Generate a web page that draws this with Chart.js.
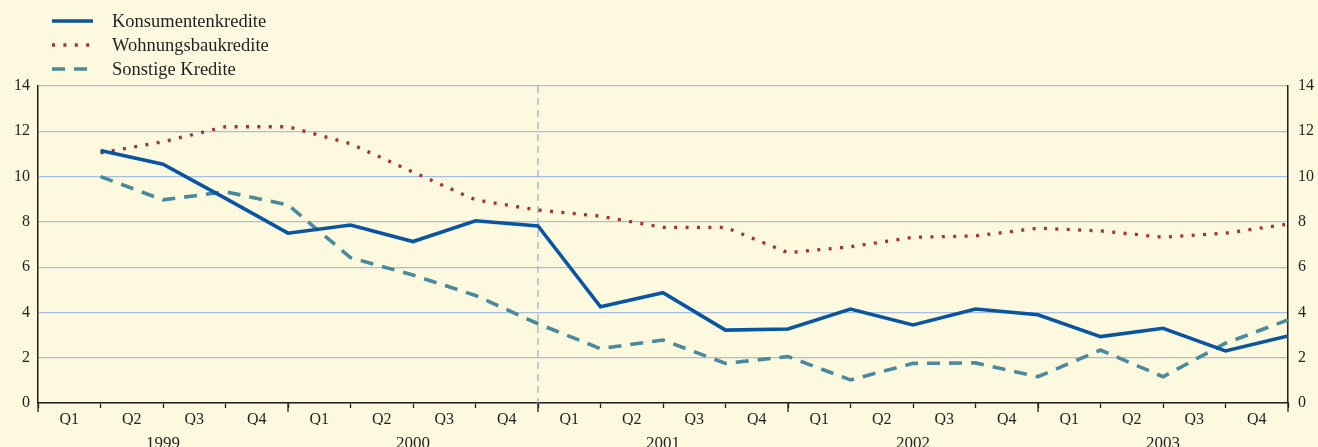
<!DOCTYPE html>
<html>
<head>
<meta charset="utf-8">
<script src="https://cdn.jsdelivr.net/npm/chart.js@4"></script>
<style>
  html, body { margin: 0; padding: 0; background: #fdf9df; }
  #wrap { position: relative; width: 1318px; height: 447px; }
  #legend { position: absolute; left: 52px; top: 9px; font-family: "Liberation Serif", "DejaVu Serif", serif; font-size: 18.5px; color: #231f20; }
  .row { height: 24px; display: flex; align-items: center; }
  .row svg { width: 60px; height: 10px; }
  canvas { position: absolute; left: 0; top: 0; }
</style>
</head>
<body>
<div id="wrap">
  <canvas id="chart" width="1318" height="447"></canvas>
  <div id="legend"></div>
</div>
<script>
// Quartale 1999 Q1 bis 2003 Q4, Werte jeweils am Quartalsende
const quartale = ["Q1","Q2","Q3","Q4","Q1","Q2","Q3","Q4","Q1","Q2","Q3","Q4","Q1","Q2","Q3","Q4","Q1","Q2","Q3","Q4"];
const jahre = ["1999","2000","2001","2002","2003"];
const yTicks = [0,2,4,6,8,10,12,14];

const konsumentenkredite = [11.15,10.55,9.04,7.5,7.86,7.13,8.05,7.82,4.25,4.87,3.22,3.27,4.15,3.45,4.15,3.9,2.93,3.3,2.3,2.96];
const wohnungsbaukredite = [11.05,11.54,12.2,12.2,11.45,10.2,8.97,8.52,8.25,7.76,7.76,6.64,6.9,7.32,7.38,7.72,7.6,7.32,7.5,7.9];
const sonstigeKredite = [10.0,8.97,9.33,8.75,6.42,5.65,4.75,3.5,2.4,2.78,1.75,2.05,1.02,1.75,1.77,1.16,2.34,1.16,2.64,3.67];

const farben = { konsum: "#0a55a3", wohnung: "#a83232", sonstige: "#4a8a9c" };

function punkte(arr) {
	return arr.map(function (v, i) { return { x: i + 1, y: v }; });
}

const serien = [
	{ label: "Konsumentenkredite", data: konsumentenkredite, color: farben.konsum, dash: [], width: 3.6 },
	{ label: "Wohnungsbaukredite", data: wohnungsbaukredite, color: farben.wohnung, dash: [3, 8.4], width: 3.3 },
	{ label: "Sonstige Kredite", data: sonstigeKredite, color: farben.sonstige, dash: [13, 9], width: 3.6 }
];

//legende als html
const legend = document.getElementById("legend");
serien.forEach(function (s) {
	const row = document.createElement("div");
	row.className = "row";
	row.innerHTML = "<svg viewBox='0 0 60 10'><line x1='0' y1='5' x2='41' y2='5' stroke='" + s.color + "' stroke-width='" + s.width + "' stroke-dasharray='" + (s.dash.length ? s.dash.join(",") : "none") + "'/></svg><span>" + s.label + "</span>";
	legend.appendChild(row);
});

const serif = "'Liberation Serif', 'DejaVu Serif', serif";

//gestrichelte linie 2000/2001 und laengere jahresticks
const extras = {
	id: "extras",
	beforeDatasetsDraw: function (chart) {
		const ctx = chart.ctx;
		const xs = chart.scales.x;
		const area = chart.chartArea;
		const px = xs.getPixelForValue(8);
		ctx.save();
		ctx.strokeStyle = "#9cb2cc";
		ctx.lineWidth = 1.3;
		ctx.setLineDash([7, 5]);
		ctx.beginPath();
		ctx.moveTo(px, area.top);
		ctx.lineTo(px, area.bottom);
		ctx.stroke();
		ctx.restore();
	},
	afterDraw: function (chart) {
		const ctx = chart.ctx;
		const xs = chart.scales.x;
		const area = chart.chartArea;
		ctx.save();
		ctx.strokeStyle = "#231f20";
		ctx.lineWidth = 1.3;
		for (let k = 0; k <= jahre.length; k++) {
			const px = xs.getPixelForValue(k * 4);
			ctx.beginPath();
			ctx.moveTo(px, area.bottom);
			ctx.lineTo(px, area.bottom + 9);
			ctx.stroke();
		}
		ctx.restore();
	}
};

const config = {
	type: "line",
	data: {
		datasets: serien.map(function (s) {
			return {
				label: s.label,
				data: punkte(s.data),
				borderColor: s.color,
				backgroundColor: s.color,
				borderWidth: s.width,
				borderDash: s.dash,
				pointRadius: 0,
				tension: 0,
				xAxisID: "x",
				yAxisID: "y"
			};
		})
	},
	options: {
		responsive: false,
		animation: false,
		maintainAspectRatio: false,
		layout: { padding: { top: 86, left: 0, right: 0, bottom: 0 } },
		plugins: { legend: { display: false }, tooltip: { enabled: false } },
		scales: {
			x: {
				type: "linear",
				min: 0,
				max: 20,
				display: false
			},
			q: {
				type: "category",
				labels: quartale,
				position: "bottom",
				offset: true,
				weight: 0,
				grid: { drawOnChartArea: false, drawTicks: true, tickLength: 5, tickColor: "#231f20", tickWidth: 1.3, offset: true },
				border: { display: true, color: "#231f20", width: 1.5 },
				ticks: { color: "#231f20", font: { family: serif, size: 16 }, padding: 2, maxRotation: 0, autoSkip: false },
				afterFit: function (scale) { scale.height = 22; }
			},
			jahr: {
				type: "category",
				labels: jahre,
				position: "bottom",
				offset: true,
				weight: 1,
				grid: { display: false },
				border: { display: false },
				ticks: { color: "#231f20", font: { family: serif, size: 17 }, padding: 0, maxRotation: 0, autoSkip: false },
				afterFit: function (scale) { scale.height = 22; }
			},
			y: {
				position: "left",
				min: 0,
				max: 14,
				afterBuildTicks: function (scale) { scale.ticks = yTicks.map(function (v) { return { value: v }; }); },
				grid: { color: "#a9bfdc", lineWidth: 1.2, drawTicks: false },
				border: { display: true, color: "#231f20", width: 1.5 },
				ticks: { color: "#231f20", font: { family: serif, size: 16 }, padding: 8 },
				afterFit: function (scale) { scale.width = 38; }
			},
			y2: {
				position: "right",
				min: 0,
				max: 14,
				afterBuildTicks: function (scale) { scale.ticks = yTicks.map(function (v) { return { value: v }; }); },
				grid: { drawOnChartArea: false, drawTicks: false },
				border: { display: true, color: "#231f20", width: 1.5 },
				ticks: { color: "#231f20", font: { family: serif, size: 16 }, padding: 10 },
				afterFit: function (scale) { scale.width = 30; }
			}
		}
	},
	plugins: [extras]
};

const myChart = new Chart(document.getElementById("chart"), config);
</script>
</body>
</html>
